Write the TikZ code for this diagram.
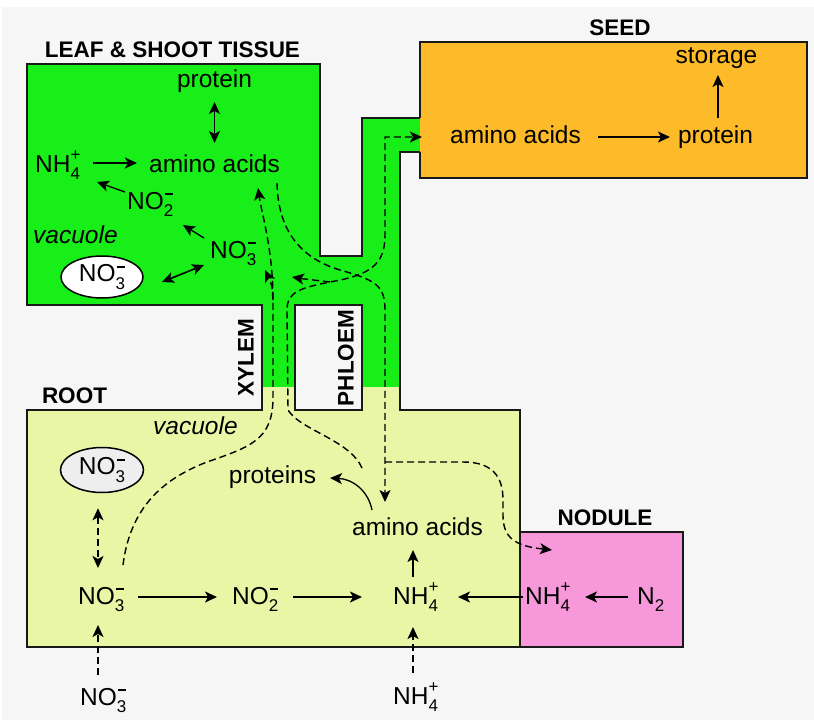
\documentclass[tikz,border=0pt]{standalone}
\usepackage{fontspec}
\setmainfont{Liberation Sans}
\usetikzlibrary{arrows.meta,calc,shapes.geometric}
\definecolor{bgc}{RGB}{246,246,246}
\definecolor{leafgreen}{RGB}{24,238,24}
\definecolor{rootyellow}{RGB}{233,246,166}
\definecolor{seedorange}{RGB}{253,186,41}
\definecolor{nodpink}{RGB}{246,152,218}
\definecolor{ellgray}{RGB}{238,238,238}
\newcommand{\subsz}{\fontsize{17}{17}\selectfont}
\newcommand{\ionP}[2]{#1\makebox[0pt][l]{\raisebox{0.48em}{\subsz +}}\raisebox{-0.32em}{\subsz #2}}
\newcommand{\ionM}[2]{#1\makebox[0pt][l]{\hspace{1pt}\rule[14pt]{8pt}{1.8pt}}\raisebox{-0.32em}{\subsz #2}}
\newcommand{\subN}[2]{#1\raisebox{-0.32em}{\subsz #2}}
\begin{document}
\begin{tikzpicture}[x=1pt,y=-1pt,
  txt/.style={inner sep=0pt,font=\fontsize{24.5}{26}\selectfont},
  hd/.style={inner sep=0pt,font=\bfseries\fontsize{22.5}{24}\selectfont},
  outl/.style={line width=1.8pt,draw=black!90,line join=miter},
  tip/.tip={Stealth[length=12pt,width=11pt,inset=3pt]},
  arr/.style={line width=1.6pt,-tip},
  barr/.style={line width=1.6pt,tip-tip},
  dsh/.style={dash pattern=on 7pt off 4pt},
  flow/.style={line width=1.4pt,dsh,-tip},
]
\useasboundingbox (0,0) rectangle (814,720);
\fill[white] (0,0) rectangle (814,720);
\fill[bgc] (2,7) rectangle (814,720);

% regions
\fill[leafgreen] (27,64) -- (320,64) -- (320,256) -- (362,256) -- (362,118) -- (420,118) -- (420,152) -- (400,152) -- (400,387) -- (262,387) -- (262,305) -- (27,305) -- cycle;
\fill[rootyellow] (27,410) -- (262,410) -- (262,387) -- (400,387) -- (400,410) -- (520,410) -- (520,647) -- (27,647) -- cycle;
\filldraw[fill=seedorange,outl] (420,118) -- (420,42) -- (807,42) -- (807,178) -- (420,178) -- (420,152);
\filldraw[fill=nodpink,outl] (520,532) rectangle (683,647);
\draw[outl] (420,118) -- (362,118) -- (362,256) -- (320,256) -- (320,64) -- (27,64) -- (27,305) -- (262,305) -- (262,410) -- (27,410) -- (27,647) -- (520,647) -- (520,410) -- (400,410) -- (400,152) -- (420,152);
\filldraw[fill=bgc,outl] (295,305) rectangle (362,410);

% headings
\node[hd,anchor=base] (leafT) at (172.5,57) {LEAF \& SHOOT TISSUE};
\node[hd,anchor=base] (seedT) at (620,35) {SEED};
\node[hd,anchor=base] (rootT) at (74.5,403) {ROOT};
\node[hd,anchor=base] (nodT) at (605,525) {NODULE};
\node[hd,rotate=90] (xyl) at (246,358) {XYLEM};
\node[hd,rotate=90] (phl) at (346,358) {PHLOEM};

% leaf texts
\node[txt,anchor=base] (lprot) at (214.5,87) {protein};
\node[txt,anchor=base] (laa) at (214.5,172) {amino acids};
\node[txt,anchor=base west] (lnh) at (35,172) {\ionP{NH}{4}};
\node[txt,anchor=base west] (lno2) at (127,209) {\ionM{NO}{2}};
\node[txt,anchor=base west] (lvac) at (33,243) {\itshape vacuole};
\node[txt,anchor=base west] (lno3) at (210,258) {\ionM{NO}{3}};
\node[txt,ellipse,draw,line width=1.5pt,fill=white,minimum width=82pt,minimum height=42pt] (lell) at (102,277) {\ionM{NO}{3}};

% seed texts
\node[txt,anchor=base] (saa) at (515.5,143) {amino acids};
\node[txt,anchor=base] (sprot) at (715.5,143) {protein};
\node[txt,anchor=base] (sstor) at (716.5,63) {storage};

% root texts
\node[txt,anchor=base west] (rvac) at (153,434) {\itshape vacuole};
\node[txt,ellipse,draw,line width=1.5pt,fill=ellgray,minimum width=83pt,minimum height=45pt] (rell) at (102,470) {\ionM{NO}{3}};
\node[txt,anchor=base west] (rno3) at (78,604) {\ionM{NO}{3}};
\node[txt,anchor=base west] (rno2) at (232,604) {\ionM{NO}{2}};
\node[txt,anchor=base west] (rnh) at (393,604) {\ionP{NH}{4}};
\node[txt,anchor=base west] (bno3) at (80,705) {\ionM{NO}{3}};
\node[txt,anchor=base west] (bnh) at (393,704) {\ionP{NH}{4}};
\node[txt,anchor=base] (raa) at (417.5,535) {amino acids};
\node[txt,anchor=base] (rprot) at (272.5,483) {proteins};
\node[txt,anchor=base west] (nnh) at (525,604) {\ionP{NH}{4}};
\node[txt,anchor=base west] (nn2) at (637,604) {\subN{N}{2}};

% leaf arrows
\draw[barr] ($(lprot.base)+(0,15)$) -- ($(laa.base)+(0,-29)$);
\draw[arr] ($(lnh.base west)+(58,-9)$) -- ($(laa.base west)+(-12,-9)$);
\draw[arr,line width=1.3pt] ($(lno2.base west)+(-2,-17)$) -- ($(lnh.base west)+(62,10)$);
\draw[arr,line width=1.3pt] ($(lno3.base west)+(-6,-20)$) -- ($(lno2.base west)+(56,16)$);
\draw[barr] ($(lell.center)+(60,5)$) -- ($(lno3.base west)+(-6,7)$);

% seed arrows
\draw[arr] ($(saa.base)+(82.5,-6)$) -- ($(sprot.base)+(-45.5,-6)$);
\draw[arr] ($(sprot.base)+(2.5,-25)$) -- ($(sstor.base)+(1.5,12)$);

% root arrows
\draw[arr] ($(rno3.base west)+(60,-7)$) -- ($(rno2.base west)+(-15,-7)$);
\draw[arr] ($(rno2.base west)+(61,-7)$) -- ($(rnh.base west)+(-31,-7)$);
\draw[arr] ($(nnh.base west)+(-2,-7)$) -- ($(rnh.base west)+(65,-7)$);
\draw[arr] ($(nn2.base west)+(-9,-7)$) -- ($(nnh.base west)+(60,-7)$);
\draw[arr] ($(rnh.base west)+(20,-27)$) -- ($(raa.base)+(-4.5,15)$);
\draw[flow,line width=1.6pt] ($(bno3.base west)+(18,-30)$) -- ($(rno3.base west)+(20,21)$);
\draw[flow,line width=1.6pt] ($(bnh.base west)+(20,-31)$) -- ($(rnh.base west)+(20,23)$);
\draw[barr,dsh] ($(rell.south)+(-4,15)$) -- ($(rno3.base west)+(20,-36)$);
\draw[arr,line width=1.3pt] ($(raa.base)+(-45.5,-25)$) .. controls (368,490) and (352,479) .. ($(rprot.base)+(57.5,-5)$);

% transport paths
\coordinate (ns) at ($(rno3.base west)+(45,-39)$);
\draw[flow] (ns) .. controls (130,510) and (160,480) .. (207,462) .. controls (250,447) and (272,440) .. (273,400) -- (273,300) coordinate (xj) .. controls (273,250) and (262,215) .. ($(laa.base)+(43.5,16)$);
\draw[flow] (xj) .. controls (272,285) .. ($(lno3.base west)+(55,12)$);

\coordinate (xs) at ($(raa.base)+(-55.5,-67)$);
\coordinate (seedin) at ($(saa.base west)+(-28,-6)$);
\draw[flow] (xs) .. controls (350,440) and (300,430) .. (288,410) -- (287,310) .. controls (287,292) and (300,288) .. (330,282) coordinate (jn) .. controls (370,275) and (385,265) .. (385,235) |- (seedin);
\draw[flow] (jn) .. controls (315,281) .. ($(lno3.base west)+(82,19)$);

\draw[flow] ($(laa.base)+(62.5,11)$) .. controls (278,230) and (300,258) .. (340,270) .. controls (375,280) and (385,285) .. (385,310) -- ($(raa.base)+(-32.5,-33)$);
\coordinate (br) at ($(raa.base)+(-32.5,-73)$);
\draw[flow] (br) -- (463,462) .. controls (492,462) and (503,476) .. (503,500) -- (503,515) .. controls (503,538) and (515,546) .. ($(nnh.base west)+(27,-54)$);
\end{tikzpicture}
\end{document}
